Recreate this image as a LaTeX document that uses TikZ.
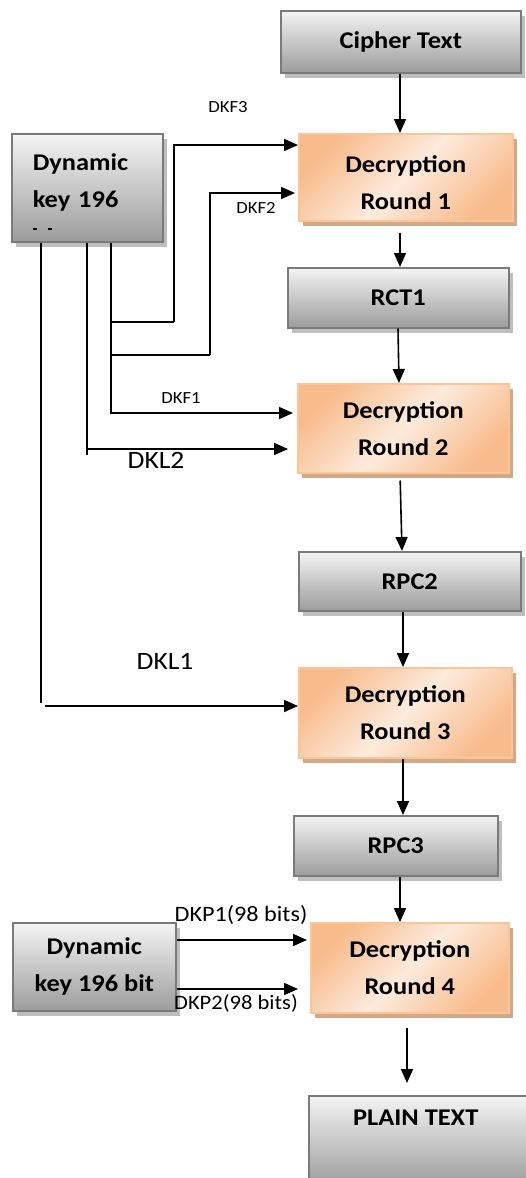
\documentclass[tikz,border=0pt]{standalone}
\usepackage{fontspec}
\setmainfont{Carlito}[FakeStretch=1.1]
\usetikzlibrary{arrows.meta,shadows}

\definecolor{grayTop}{HTML}{F4F4F4}
\definecolor{grayBot}{HTML}{9C9C9C}
\definecolor{grayEdge}{HTML}{7A7A7A}
\definecolor{grayShadow}{HTML}{BEBEBE}
\definecolor{orLight}{HTML}{FDEBDD}
\definecolor{orDark}{HTML}{F8BC8C}
\definecolor{orEdge}{HTML}{FAC598}
\definecolor{orShadow}{HTML}{D3A887}

\tikzset{
  boxbase/.style={anchor=north west, inner sep=0pt, align=center,
    font=\bfseries\fontsize{24}{37}\selectfont},
  graybox/.style={boxbase, draw=grayEdge, line width=1.5pt,
    top color=grayTop, bottom color=grayBot,
    drop shadow={shadow xshift=4pt, shadow yshift=-5pt, fill=grayShadow, opacity=1}},
  roundbox/.style={boxbase, draw=orEdge, line width=1.5pt,
    left color=orDark, right color=orDark, middle color=orLight, shading angle=45,
    drop shadow={shadow xshift=4pt, shadow yshift=-5pt, fill=orShadow, opacity=1}},
  arr/.style={line width=1.6pt, -{Triangle[length=14pt,width=12pt]}},
  wire/.style={line width=1.6pt},
  lblsmall/.style={font=\fontsize{17}{20}\selectfont, inner sep=0pt},
  lblbig/.style={font=\fontsize{25}{29}\selectfont, inner sep=0pt},
  lblmid/.style={font=\fontsize{22}{26}\selectfont, inner sep=0pt},
}

\begin{document}
\begin{tikzpicture}[x=1pt,y=-1pt]
\useasboundingbox (0,0) rectangle (526,1178);

% main decryption chain
\node[graybox, minimum width=240pt, minimum height=62pt] (cipher) at (280,10) {Cipher Text};
\node[roundbox, minimum width=214pt, minimum height=87pt] (r1) at (298,133) {\rule{0pt}{28pt}Decryption\\Round 1};
\node[graybox, minimum width=221pt, minimum height=60pt] (rct1) at (287,267) {RCT1};
\node[roundbox, minimum width=211pt, minimum height=89pt] (r2) at (297,383) {Decryption\\Round 2};
\node[graybox, minimum width=222pt, minimum height=59pt] (rpc2) at (298,551) {RPC2};
\node[roundbox, minimum width=213pt, minimum height=90pt] (r3) at (298,667) {Decryption\\Round 3};
\node[graybox, minimum width=204pt, minimum height=60pt] (rpc3) at (293,815) {RPC3};
\node[roundbox, minimum width=198pt, minimum height=90pt] (r4) at (310,922) {Decryption\\Round 4};
\node[graybox, minimum width=230pt, minimum height=90pt] (plain) at (308,1095) {\raisebox{46pt}{PLAIN TEXT}\kern16pt};

% key sources
\node[graybox, minimum width=151pt, minimum height=108pt, text width=109pt, align=left] (key1) at (11,133) {Dynamic\\key 196\rule[-14pt]{0pt}{1pt}};
\draw[line width=1.2pt] (33,229) -- (37,229) (48,229) -- (52,229);
\node[graybox, minimum width=163pt, minimum height=88pt] (key2) at (12,922) {Dynamic\\key 196 bit};

% tap positions along the key bus
\coordinate (tapA) at (111,0);
\coordinate (tapB) at (87,0);
\coordinate (tapC) at (41,0);
\coordinate (jogF3) at (174,322);
\coordinate (jogF2) at (210,355);

% vertical flow arrows
\draw[arr] (cipher.south -| 400,0) -- (r1.north -| 400,0);
\draw[arr, shorten <=11pt] (r1.south -| 400,0) -- (rct1.north -| 400,0);
\draw[arr] (rct1.south -| 398,0) -- (r2.north -| 399,0);
\draw[arr, shorten <=7pt] (r2.south -| 400,0) -- (rpc2.north -| 402,0);
\draw[arr] (rpc2.south -| 403,0) -- (r3.north -| 403,0);
\draw[arr] (r3.south -| 403,0) -- (rpc3.north -| 403,0);
\draw[arr] (rpc3.south -| 400,0) -- (r4.north -| 400,0);
\draw[arr, shorten <=14pt, shorten >=12pt] (r4.south -| 407,0) -- (plain.north -| 407,0);

% round-key distribution from the first dynamic key
\draw[arr, shorten >=4pt] (key1.south -| tapA) -- (tapA |- 0,413) -- (r2.west |- 0,413);
\draw[wire] (tapA |- jogF3) -- (jogF3);
\draw[arr] (jogF3) -- (jogF3 |- 0,145) -- (r1.west |- 0,145);
\draw[wire] (tapA |- jogF2) -- (jogF2);
\draw[arr, shorten >=3pt] (jogF2) -- (jogF2 |- 0,193) -- (r1.west |- 0,193);
\draw[wire] (key1.south -| tapB) -- (tapB |- 0,455);
\draw[arr, shorten >=9pt] (tapB |- 0,449) -- (r2.west |- 0,449);
\draw[wire] (key1.south -| tapC) -- (tapC |- 0,703);
\draw[arr] (45,706) -- (r3.west |- 0,706);

% split key into the last round
\draw[arr, shorten >=3pt] (key2.east |- 0,940) -- (r4.west |- 0,940);
\draw[arr, shorten >=12pt] (key2.east |- 0,989) -- (r4.west |- 0,989);

% key labels
\node[lblsmall] (lf3) at (228,107) {DKF3};
\node[lblsmall] (lf2) at (256,208) {DKF2};
\node[lblsmall] (lf1) at (181,398) {DKF1};
\node[lblbig] (ll2) at (156,460) {DKL2};
\node[lblbig] (ll1) at (165,661) {DKL1};
\node[lblmid] (lp1) at (241,915) {DKP1(98 bits)};
\node[font=\fontsize{20.5}{24}\selectfont, inner sep=0pt] (lp2) at (236,1003) {DKP2(98 bits)};
\end{tikzpicture}
\end{document}
